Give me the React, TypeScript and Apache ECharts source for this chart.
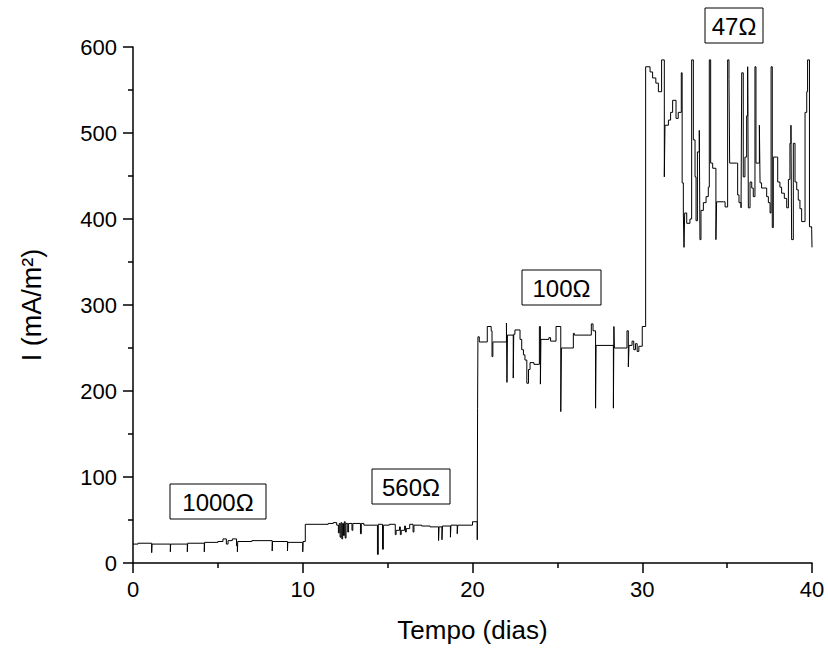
import React, { useEffect, useRef } from "react";
import * as echarts from "echarts";

// Time (days) and current density (mA/m²), change points of the recorded trace
const days: number[] = [
  0, 0.3, 1.1, 1.12, 2.2, 2.22, 3.2, 3.22, 4.2, 4.22, 5.0, 5.3, 5.5, 5.6, 5.85, 6.1, 6.15, 6.17, 7.0, 8.2, 8.22, 9.1, 9.12, 10.0, 10.02,
  10.15, 11.5, 11.8, 12.0, 12.1, 12.15, 12.2, 12.25, 12.3, 12.35, 12.4, 12.45, 12.5, 12.55, 12.65, 12.7, 12.9, 12.95, 13.4, 13.45, 13.6,
  14.4, 14.45, 14.7, 14.75, 15.1, 15.45, 15.5, 15.7, 15.75, 15.8, 16.0, 16.05, 16.1, 16.3, 16.5, 16.55, 17.0, 17.5, 18.0, 18.03, 18.2,
  18.23, 18.7, 18.73, 19.1, 19.13, 20.0, 20.28, 20.3, 20.32,
  20.4, 20.87, 21.1, 21.15, 21.2, 22.0, 22.03, 22.06, 22.4, 22.43, 22.5, 22.8, 22.9, 23.0, 23.09, 23.2, 23.3, 23.39, 23.62, 23.94, 24.0,
  24.03, 24.5, 24.6, 24.92, 25.2, 25.24, 25.94, 26.0, 27.0, 27.1, 27.25, 27.28, 28.3, 28.33, 28.36, 29.1, 29.18, 29.22, 29.4, 29.5, 29.6,
  29.7, 29.8, 30.0,
  30.2, 30.46, 30.61, 30.8, 30.95, 31.14, 31.3, 31.34, 31.54, 31.67, 31.79, 31.99, 32.12, 32.3, 32.35, 32.42, 32.46, 32.5, 32.62, 32.81,
  32.91, 33.01, 33.11, 33.17, 33.25, 33.36, 33.4, 33.46, 33.6, 33.76, 33.89, 33.95, 34.03, 34.15, 34.34, 34.38, 34.78, 34.88, 35.03,
  35.11, 35.15, 35.56, 35.62, 35.7, 35.82, 35.86, 35.95, 36.05, 36.15, 36.21, 36.25, 36.35, 36.45, 36.54, 36.64, 36.7, 36.84, 36.9,
  36.94, 37.03, 37.23, 37.33, 37.43, 37.53, 37.59, 37.66, 37.72, 37.92, 37.98, 38.11, 38.21, 38.37, 38.51, 38.61, 38.7, 38.76, 38.8,
  38.9, 39.0, 39.1, 39.19, 39.29, 39.39, 39.59, 39.69, 39.74, 39.85, 39.98, 40.0,
];

const current: number[] = [
  22, 23, 12, 22, 13, 22, 13, 23, 13, 24, 25, 28, 22, 26, 28, 20, 13, 25, 26, 14, 25, 14, 24, 13, 25,
  45, 46, 47, 44, 35, 46, 30, 47, 28, 46, 32, 48, 29, 46, 36, 46, 38, 46, 34, 46, 44,
  10, 45, 16, 44, 45, 33, 38, 42, 33, 38, 43, 36, 40, 45, 36, 44, 43, 42, 26, 42, 27,
  43, 30, 44, 34, 44, 48, 27, 180, 263,
  257, 275, 270, 240, 257, 279, 210, 265, 215, 266, 271, 260, 248, 242, 236, 209, 225, 233, 231, 275, 208,
  260, 262, 258, 275, 176, 250, 267, 265, 278, 270, 180, 253, 180, 275, 250, 270, 228, 253, 258, 248, 255,
  246, 252, 275,
  577, 571, 564, 558, 548, 585, 449, 509, 515, 524, 538, 517, 524, 570, 442, 407, 367, 407, 395, 400,
  585, 492, 449, 398, 478, 503, 376, 410, 419, 426, 437, 585, 465, 459, 376, 420, 420, 414, 585,
  562, 465, 465, 428, 419, 413, 570, 449, 472, 520, 577, 413, 443, 436, 426, 577, 465, 465, 509,
  442, 436, 436, 426, 419, 407, 577, 390, 472, 472, 443, 437, 430, 424, 413, 446, 488, 509, 376,
  488, 443, 434, 422, 412, 397, 524, 548, 585, 391, 388, 367,
];

const xTicks = { min: 0, max: 40, interval: 10 };
const yTicks = { min: 0, max: 600, interval: 100 };

const resistorLabels: string[] = ["1000Ω", "560Ω", "100Ω", "47Ω"];

const FONT = "'Liberation Sans', Arial, Helvetica, sans-serif";

export default function App() {
  const ref = useRef<HTMLDivElement>(null);

  useEffect(() => {
    if (!ref.current) return;
    const chart = echarts.init(ref.current, null, { renderer: "svg" });

    const boxes = [
      { x: 170, y: 484, w: 96, h: 35 },
      { x: 372, y: 469, w: 78, h: 35 },
      { x: 522, y: 270, w: 79, h: 35 },
      { x: 705, y: 8, w: 58, h: 35 },
    ];

    const graphics: any[] = [];
    boxes.forEach((b, i) => {
      graphics.push({
        type: "rect",
        shape: { x: b.x, y: b.y, width: b.w, height: b.h },
        style: { fill: "#fff", stroke: "#000", lineWidth: 1 },
        z: 10,
      });
      graphics.push({
        type: "text",
        x: b.x + b.w / 2,
        y: b.y + b.h / 2 + 1,
        style: {
          text: resistorLabels[i],
          fill: "#000",
          font: `24px ${FONT}`,
          align: "center",
          verticalAlign: "middle",
        },
        z: 11,
      });
    });

    const data = days.map((d, i) => [d, current[i]]);

    const tickStyle = { color: "#000", width: 1.5 };

    chart.setOption({
      animation: false,
      backgroundColor: "#fff",
      grid: { left: 133, right: 16, top: 47, bottom: 88, containLabel: false },
      xAxis: {
        type: "value",
        min: xTicks.min,
        max: xTicks.max,
        interval: xTicks.interval,
        name: "Tempo (dias)",
        nameLocation: "middle",
        nameGap: 54,
        nameTextStyle: { fontSize: 26, color: "#000", fontFamily: FONT },
        axisLine: { show: true, onZero: false, lineStyle: tickStyle },
        axisTick: { show: true, inside: false, length: 10, lineStyle: tickStyle },
        minorTick: { show: true, splitNumber: 2, length: 5, lineStyle: tickStyle },
        axisLabel: { fontSize: 22, color: "#000", fontFamily: FONT, margin: 15 },
        splitLine: { show: false },
        minorSplitLine: { show: false },
      },
      yAxis: {
        type: "value",
        min: yTicks.min,
        max: yTicks.max,
        interval: yTicks.interval,
        name: "I (mA/m²)",
        nameLocation: "middle",
        nameGap: 88,
        nameRotate: 90,
        nameTextStyle: { fontSize: 27, color: "#000", fontFamily: FONT },
        axisLine: { show: true, onZero: false, lineStyle: tickStyle },
        axisTick: { show: true, inside: false, length: 10, lineStyle: tickStyle },
        minorTick: { show: true, splitNumber: 2, length: 5, lineStyle: tickStyle },
        axisLabel: { fontSize: 22, color: "#000", fontFamily: FONT, margin: 16 },
        splitLine: { show: false },
        minorSplitLine: { show: false },
      },
      series: [
        {
          type: "line",
          step: "end",
          data,
          showSymbol: false,
          symbol: "none",
          lineStyle: { color: "#000", width: 1 },
          z: 2,
        },
      ],
      graphic: graphics,
    });

    return () => chart.dispose();
  }, []);

  return <div ref={ref} style={{ width: 828, height: 651, position: "absolute", left: 0, top: 0 }} />;
}
